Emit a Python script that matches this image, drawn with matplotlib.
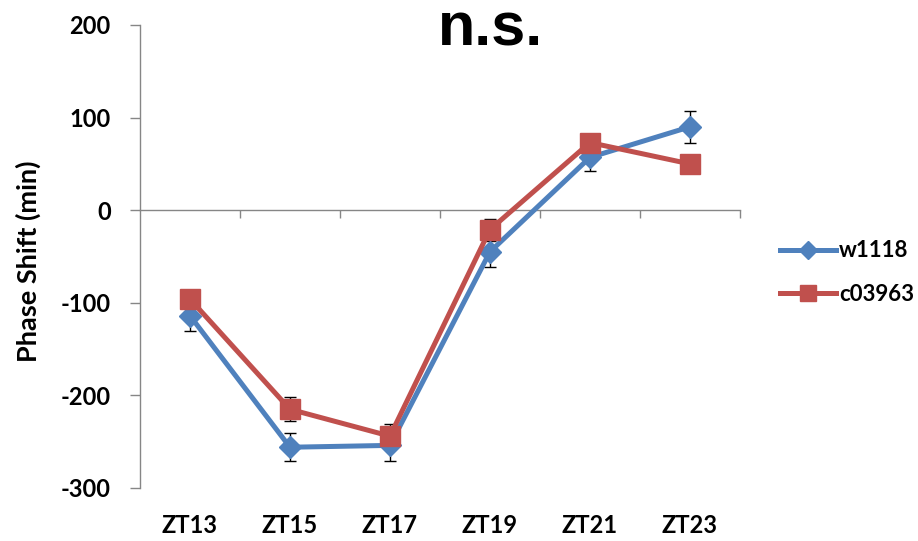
import matplotlib
matplotlib.use('Agg')
import matplotlib.pyplot as plt
from matplotlib.transforms import blended_transform_factory

plt.rcParams['axes.unicode_minus'] = False  # plain hyphen like the original

# data
categories = ['ZT13', 'ZT15', 'ZT17', 'ZT19', 'ZT21', 'ZT23']
w1118 = [-114, -256, -254, -45, 57, 90]
w1118_err = [16, 15, 17, 16, 15, 17]
c03963 = [-96, -215, -244, -21, 73, 50]
c03963_err = [8, 13, 13, 12, 6, 6]

BLUE = '#4F81BD'
RED = '#C0504D'
AXIS_GREY = '#868686'
LABEL_FONT = ['Lato', 'DejaVu Sans']

fig = plt.figure(figsize=(9.18, 5.41), dpi=100)
ax = fig.add_axes([0.1525, 0.098, 0.6535, 0.8558])

x = list(range(len(categories)))

# error bars behind the lines/markers
ax.errorbar(x, w1118, yerr=w1118_err, fmt='none', ecolor='black',
            elinewidth=1.0, capsize=4.5, capthick=1.0, zorder=2)
ax.errorbar(x, c03963, yerr=c03963_err, fmt='none', ecolor='black',
            elinewidth=1.0, capsize=4.5, capthick=1.0, zorder=2)

ax.plot(x, w1118, color=BLUE, lw=3.6, marker='D', markersize=11,
        markerfacecolor=BLUE, markeredgecolor=BLUE, label='w1118', zorder=3)
ax.plot(x, c03963, color=RED, lw=3.6, marker='s', markersize=14,
        markerfacecolor=RED, markeredgecolor=RED, label='c03963', zorder=4)

ax.set_xlim(-0.5, len(categories) - 0.5)
ax.set_ylim(-300, 200)
ax.set_yticks(range(-300, 201, 100))

# spines: y axis on left, x axis crossing at zero
for side in ['top', 'right']:
    ax.spines[side].set_visible(False)
ax.spines['left'].set_color(AXIS_GREY)
ax.spines['left'].set_linewidth(1.0)
ax.spines['bottom'].set_position(('data', 0))
ax.spines['bottom'].set_color(AXIS_GREY)
ax.spines['bottom'].set_linewidth(1.0)

ax.tick_params(axis='y', direction='out', length=7, width=1.0,
               color=AXIS_GREY, pad=14)
# x ticks at category boundaries, pointing down from the zero line
ax.set_xticks([i + 0.5 for i in x])
ax.set_xticklabels([])
ax.tick_params(axis='x', direction='out', length=6, width=1.0,
               color=AXIS_GREY)

for lbl in ax.get_yticklabels():
    lbl.set_fontfamily(LABEL_FONT)
    lbl.set_fontweight('bold')
    lbl.set_fontsize(17)

# category labels along the bottom of the plot area
trans = blended_transform_factory(ax.transData, ax.transAxes)
for i, cat in enumerate(categories):
    ax.text(i, -0.08, cat, transform=trans, ha='center', va='center',
            fontsize=17, fontweight='bold', family=LABEL_FONT)

ax.set_ylabel('Phase Shift (min)', fontsize=19.5, fontweight='bold',
              family=LABEL_FONT)
ax.yaxis.set_label_coords(-0.165, 0.49)

fig.text(0.534, 0.945, 'n.s.', ha='center', va='center', fontsize=44,
         fontweight='bold', family=['Liberation Sans', 'DejaVu Sans'])

leg = ax.legend(loc='upper left', bbox_to_anchor=(1.067, 0.535),
                frameon=False, handlelength=2.5, labelspacing=1.0,
                handletextpad=0.15, borderaxespad=0, borderpad=0,
                markerscale=0.8,
                prop={'family': LABEL_FONT, 'weight': 'bold', 'size': 16})

plt.savefig('out.png', dpi=100)
